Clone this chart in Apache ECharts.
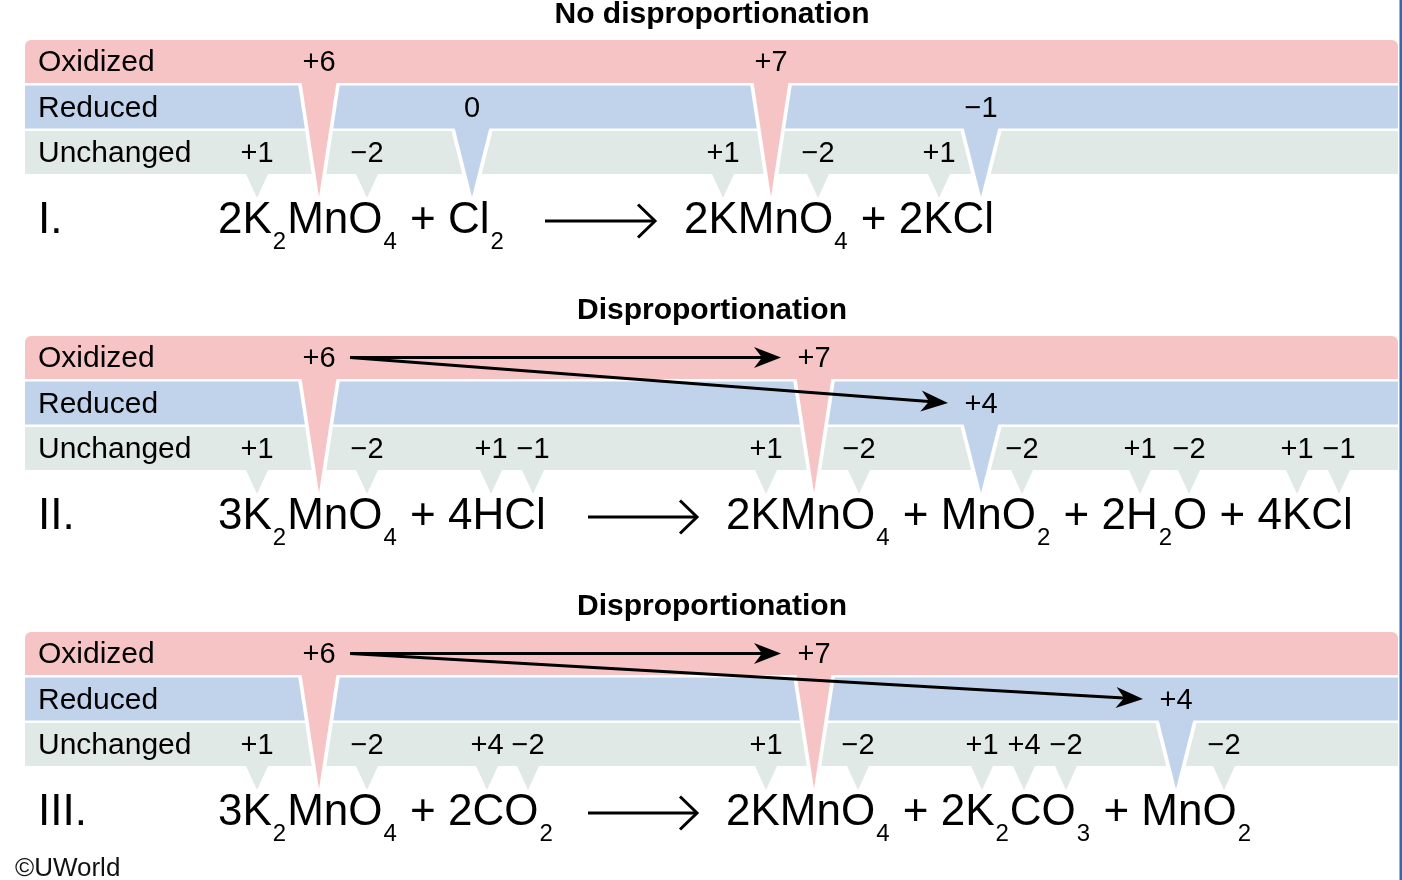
<!DOCTYPE html>
<html>
<head>
<meta charset="utf-8">
<title>Disproportionation</title>
<script src="https://cdn.jsdelivr.net/npm/echarts@6/dist/echarts.min.js"></script>
<style>
  html, body { margin: 0; padding: 0; background: #fff; }
  #chart { width: 1402px; height: 880px; }
</style>
</head>
<body>
<div id="chart"></div>
<script>
'use strict';

var ROW_NAMES = ['Oxidized', 'Reduced', 'Unchanged'];
var PANEL_TITLES = ['No disproportionation', 'Disproportionation', 'Disproportionation'];
var NUMERALS = ['I.', 'II.', 'III.'];

// oxidation states: [atom position along the equation, row (0 oxidized, 1 reduced, 2 unchanged), label]
var STATES_I = [
  [257, 2, '+1'], [319, 0, '+6'], [367, 2, '\u22122'], [472, 1, '0'],
  [723, 2, '+1'], [771, 0, '+7'], [818, 2, '\u22122'], [939, 2, '+1'], [981, 1, '\u22121']
];
var STATES_II = [
  [257, 2, '+1'], [319, 0, '+6'], [367, 2, '\u22122'], [491, 2, '+1'], [533, 2, '\u22121'],
  [766, 2, '+1'], [814, 0, '+7'], [859, 2, '\u22122'], [981, 1, '+4'], [1022, 2, '\u22122'],
  [1140, 2, '+1'], [1189, 2, '\u22122'], [1297, 2, '+1'], [1339, 2, '\u22121']
];
var STATES_III = [
  [257, 2, '+1'], [319, 0, '+6'], [367, 2, '\u22122'], [487, 2, '+4'], [528, 2, '\u22122'],
  [766, 2, '+1'], [814, 0, '+7'], [858, 2, '\u22122'], [982, 2, '+1'], [1024, 2, '+4'],
  [1066, 2, '\u22122'], [1176, 1, '+4'], [1224, 2, '\u22122']
];

// electron arrows: [from atom, from row, to atom, to row]
var ARROWS_I = [];
var ARROWS_II = [[319, 0, 814, 0], [319, 0, 981, 1]];
var ARROWS_III = [[319, 0, 814, 0], [319, 0, 1176, 1]];

// equations, {s|..} marks a subscript
var REACTANTS = [
  '2K{s|2}MnO{s|4} + Cl{s|2}',
  '3K{s|2}MnO{s|4} + 4HCl',
  '3K{s|2}MnO{s|4} + 2CO{s|2}'
];
var PRODUCTS = [
  '2KMnO{s|4} + 2KCl',
  '2KMnO{s|4} + MnO{s|2} + 2H{s|2}O + 4KCl',
  '2KMnO{s|4} + 2K{s|2}CO{s|3} + MnO{s|2}'
];

// layout
var FAMILY = '"Liberation Sans", Arial, Helvetica, sans-serif';
var ROW_COLORS = ['#f6c4c4', '#c1d3eb', '#e1e9e7'];
var PANEL_TOP0 = 40;
var PANEL_STEP = 296;
var ROW_STEP = 45.5;
var ROW_H = 43;
var BAND_X0 = 25;
var BAND_X1 = 1398;
var TIP_DY = 157;
var TEXT_DY = 1.5;
var EQ_LAYOUT = [
  { reactX: 218, arrowX0: 545, arrowX1: 655, prodX: 684 },
  { reactX: 218, arrowX0: 588, arrowX1: 697, prodX: 726 },
  { reactX: 218, arrowX0: 588, arrowX1: 697, prodX: 726 }
];

function panelTop(p) { return PANEL_TOP0 + p * PANEL_STEP; }
function rowTop(p, r) { return panelTop(p) + r * ROW_STEP; }
function rowMid(p, r) { return rowTop(p, r) + ROW_H / 2; }
function eqMid(p) { return panelTop(p) + 181; }

var ALL_STATES = [STATES_I, STATES_II, STATES_III];
var ALL_ARROWS = [ARROWS_I, ARROWS_II, ARROWS_III];

var bandData = [];
var stateData = [];
var arrowData = [];
var textData = [];
var textMeta = [];

function addText(x, y, text, font, align, rich) {
  textData.push([x, y]);
  textMeta.push({ text: text, font: font, align: align, rich: rich });
}

var SUB_RICH = { s: { font: '24px ' + FAMILY, padding: [42, 1, 0, 1] } };

ALL_STATES.forEach(function (states, p) {
  ROW_NAMES.forEach(function (name, r) {
    bandData.push([p, r]);
    addText(38, rowMid(p, r) + TEXT_DY, name, '30px ' + FAMILY, 'left');
  });
  states.forEach(function (s) {
    stateData.push([s[0], p, s[1]]);
    addText(s[0], rowMid(p, s[1]) + TEXT_DY, s[2], '29px ' + FAMILY, 'center');
  });
  ALL_ARROWS[p].forEach(function (a) {
    arrowData.push([a[0], rowMid(p, a[1]), a[2], rowMid(p, a[3])]);
  });
  addText(712, panelTop(p) - 25, PANEL_TITLES[p], 'bold 30px ' + FAMILY, 'center');
  addText(38, eqMid(p), NUMERALS[p], '44px ' + FAMILY, 'left');
  addText(EQ_LAYOUT[p].reactX, eqMid(p), REACTANTS[p], '44px ' + FAMILY, 'left', SUB_RICH);
  addText(EQ_LAYOUT[p].prodX, eqMid(p), PRODUCTS[p], '44px ' + FAMILY, 'left', SUB_RICH);
});

var reactionData = EQ_LAYOUT.map(function (l, p) { return [l.arrowX0, eqMid(p), l.arrowX1]; });

function renderBand(params, api) {
  var p = api.value(0);
  var r = api.value(1);
  var a = api.coord([BAND_X0, rowTop(p, r)]);
  var b = api.coord([BAND_X1, rowTop(p, r) + ROW_H]);
  return {
    type: 'rect',
    shape: { x: a[0], y: a[1], width: b[0] - a[0], height: b[1] - a[1], r: r === 0 ? [6, 6, 0, 0] : 0 },
    style: { fill: ROW_COLORS[r] }
  };
}

function renderWedge(params, api) {
  var x = api.value(0);
  var p = api.value(1);
  var r = api.value(2);
  var tip = panelTop(p) + TIP_DY;
  var yb = rowTop(p, r) + ROW_H;
  function c(px, py) { return api.coord([px, py]); }
  if (r === 2) {
    return {
      type: 'polygon',
      shape: { points: [c(x - 11.5, yb - 1), c(x + 11.5, yb - 1), c(x, tip + 1)] },
      style: { fill: ROW_COLORS[2] }
    };
  }
  var hw = 17.5;
  var d = 3.5;
  return {
    type: 'group',
    children: [
      {
        type: 'polygon',
        shape: { points: [c(x - hw - d, yb + 0.5), c(x + hw + d, yb + 0.5), c(x + d, tip + 2), c(x - d, tip + 2)] },
        style: { fill: '#fff' }
      },
      {
        type: 'polygon',
        shape: { points: [c(x - hw, yb - 1), c(x + hw, yb - 1), c(x, tip)] },
        style: { fill: ROW_COLORS[r] }
      }
    ]
  };
}

function renderArrow(params, api) {
  var s = api.coord([api.value(0) + 31, api.value(1)]);
  var e = api.coord([api.value(2) - 33, api.value(3)]);
  var ang = Math.atan2(e[1] - s[1], e[0] - s[0]);
  var cs = Math.cos(ang);
  var sn = Math.sin(ang);
  function local(u, v) { return [e[0] + u * cs - v * sn, e[1] + u * sn + v * cs]; }
  var notch = local(-19, 0);
  return {
    type: 'group',
    children: [
      {
        type: 'line',
        shape: { x1: s[0], y1: s[1], x2: notch[0], y2: notch[1] },
        style: { stroke: '#000', lineWidth: 3 }
      },
      {
        type: 'polygon',
        shape: { points: [local(0, 0), local(-27, -10.5), notch, local(-27, 10.5)] },
        style: { fill: '#000' }
      }
    ]
  };
}

function renderReaction(params, api) {
  var s = api.coord([api.value(0), api.value(1)]);
  var e = api.coord([api.value(2), api.value(1)]);
  return {
    type: 'group',
    children: [
      {
        type: 'line',
        shape: { x1: s[0], y1: s[1], x2: e[0] - 1, y2: e[1] },
        style: { stroke: '#000', lineWidth: 3 }
      },
      {
        type: 'polyline',
        shape: { points: [[e[0] - 17, e[1] - 16.5], [e[0], e[1]], [e[0] - 17, e[1] + 16.5]] },
        style: { stroke: '#000', lineWidth: 3, fill: null, lineJoin: 'miter' }
      }
    ]
  };
}

function renderText(params, api) {
  var m = textMeta[params.dataIndex];
  var pt = api.coord([api.value(0), api.value(1)]);
  return {
    type: 'text',
    style: {
      text: m.text,
      x: pt[0],
      y: pt[1],
      font: m.font,
      fill: '#000',
      textAlign: m.align,
      textVerticalAlign: 'middle',
      rich: m.rich
    }
  };
}

function renderBorder(params, api) {
  var a = api.coord([1399.5, 0]);
  var b = api.coord([1402, 880]);
  return { type: 'rect', shape: { x: a[0], y: a[1], width: b[0] - a[0], height: b[1] - a[1] }, style: { fill: '#3a66a6' } };
}

var chart = echarts.init(document.getElementById('chart'), null, { renderer: 'canvas' });
chart.setOption({
  animation: false,
  backgroundColor: '#fff',
  grid: { left: 0, right: 0, top: 0, bottom: 0 },
  xAxis: { type: 'value', min: 0, max: 1402, show: false },
  yAxis: { type: 'value', min: 0, max: 880, inverse: true, show: false },
  series: [
    { type: 'custom', name: 'bands', silent: true, renderItem: renderBand, data: bandData },
    { type: 'custom', name: 'wedges', silent: true, renderItem: renderWedge, data: stateData },
    { type: 'custom', name: 'electron arrows', silent: true, renderItem: renderArrow, data: arrowData },
    { type: 'custom', name: 'reaction arrows', silent: true, renderItem: renderReaction, data: reactionData },
    { type: 'custom', name: 'texts', silent: true, renderItem: renderText, data: textData },
    { type: 'custom', name: 'border', silent: true, renderItem: renderBorder, data: [[1400, 0]] }
  ],
  graphic: [{
    type: 'text', left: 15, top: 856,
    style: { text: '\u00a9UWorld', font: '26px ' + FAMILY, fill: '#111' }
  }]
});
</script>
</body>
</html>
